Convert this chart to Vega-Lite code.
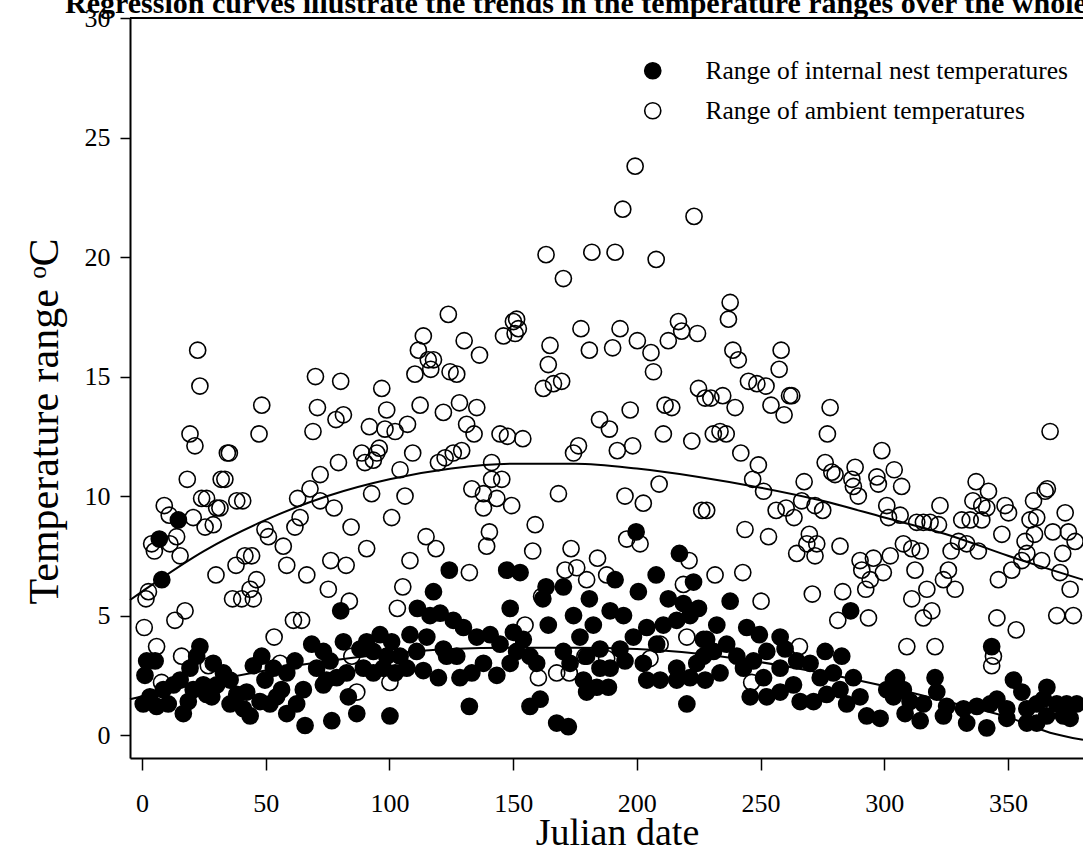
{
"$schema": "https://vega.github.io/schema/vega-lite/v6.json",
"width": 953,
"height": 740,
"autosize": {"type": "none"},
"padding": {"left": 130, "top": 18, "right": 0, "bottom": 94},
"background": "white",
"config": {"view": {"stroke": null}, "font": "Liberation Serif"},
"title": {"text": "Regression curves illustrate the trends in the temperature ranges over the whole year", "anchor": "start", "frame": "group", "fontSize": 30, "fontWeight": "bold", "font": "Liberation Serif", "baseline": "alphabetic", "offset": 10, "dx": -65, "dy": 48, "color": "black"},
"datasets": {
"pts": [
{"series":"Range of ambient temperatures","day":22.5,"value":16.1},{"series":"Range of ambient temperatures","day":23.4,"value":14.6},{"series":"Range of ambient temperatures","day":70.1,"value":15.0},{"series":"Range of ambient temperatures","day":70.9,"value":13.7},{"series":"Range of ambient temperatures","day":48.4,"value":13.8},{"series":"Range of ambient temperatures","day":47.3,"value":12.6},{"series":"Range of ambient temperatures","day":69.1,"value":12.7},{"series":"Range of ambient temperatures","day":19.4,"value":12.6},{"series":"Range of ambient temperatures","day":21.4,"value":12.1},{"series":"Range of ambient temperatures","day":35.3,"value":11.8},{"series":"Range of ambient temperatures","day":34.5,"value":11.8},{"series":"Range of ambient temperatures","day":18.3,"value":10.7},{"series":"Range of ambient temperatures","day":32.0,"value":10.7},{"series":"Range of ambient temperatures","day":33.5,"value":10.7},{"series":"Range of ambient temperatures","day":72.0,"value":10.9},{"series":"Range of ambient temperatures","day":67.9,"value":10.3},{"series":"Range of ambient temperatures","day":62.9,"value":9.9},{"series":"Range of ambient temperatures","day":72.0,"value":9.8},{"series":"Range of ambient temperatures","day":9.0,"value":9.6},{"series":"Range of ambient temperatures","day":11.0,"value":9.2},{"series":"Range of ambient temperatures","day":20.7,"value":9.1},{"series":"Range of ambient temperatures","day":24.1,"value":9.9},{"series":"Range of ambient temperatures","day":26.1,"value":9.9},{"series":"Range of ambient temperatures","day":31.5,"value":9.5},{"series":"Range of ambient temperatures","day":30.2,"value":9.5},{"series":"Range of ambient temperatures","day":38.3,"value":9.8},{"series":"Range of ambient temperatures","day":40.7,"value":9.8},{"series":"Range of ambient temperatures","day":25.5,"value":8.7},{"series":"Range of ambient temperatures","day":28.8,"value":8.8},{"series":"Range of ambient temperatures","day":14.0,"value":8.3},{"series":"Range of ambient temperatures","day":3.9,"value":8.0},{"series":"Range of ambient temperatures","day":11.3,"value":8.0},{"series":"Range of ambient temperatures","day":15.4,"value":7.5},{"series":"Range of ambient temperatures","day":5.0,"value":7.7},{"series":"Range of ambient temperatures","day":49.7,"value":8.6},{"series":"Range of ambient temperatures","day":51.1,"value":8.3},{"series":"Range of ambient temperatures","day":63.9,"value":9.1},{"series":"Range of ambient temperatures","day":61.8,"value":8.7},{"series":"Range of ambient temperatures","day":57.1,"value":7.9},{"series":"Range of ambient temperatures","day":58.5,"value":7.1},{"series":"Range of ambient temperatures","day":66.6,"value":6.7},{"series":"Range of ambient temperatures","day":41.6,"value":7.5},{"series":"Range of ambient temperatures","day":44.3,"value":7.5},{"series":"Range of ambient temperatures","day":38.0,"value":7.1},{"series":"Range of ambient temperatures","day":29.9,"value":6.7},{"series":"Range of ambient temperatures","day":46.3,"value":6.5},{"series":"Range of ambient temperatures","day":43.7,"value":6.1},{"series":"Range of ambient temperatures","day":40.3,"value":5.7},{"series":"Range of ambient temperatures","day":36.6,"value":5.7},{"series":"Range of ambient temperatures","day":45.0,"value":5.7},{"series":"Range of ambient temperatures","day":2.6,"value":6.0},{"series":"Range of ambient temperatures","day":1.6,"value":5.7},{"series":"Range of ambient temperatures","day":0.9,"value":4.5},{"series":"Range of ambient temperatures","day":13.3,"value":4.8},{"series":"Range of ambient temperatures","day":17.4,"value":5.2},{"series":"Range of ambient temperatures","day":61.2,"value":4.8},{"series":"Range of ambient temperatures","day":64.5,"value":4.8},{"series":"Range of ambient temperatures","day":53.4,"value":4.1},{"series":"Range of ambient temperatures","day":5.9,"value":3.7},{"series":"Range of ambient temperatures","day":16.0,"value":3.3},{"series":"Range of ambient temperatures","day":55.8,"value":3.0},{"series":"Range of ambient temperatures","day":7.9,"value":2.2},{"series":"Range of ambient temperatures","day":26.8,"value":2.9},
{"series":"Range of ambient temperatures","day":123.8,"value":17.6},{"series":"Range of ambient temperatures","day":113.7,"value":16.7},{"series":"Range of ambient temperatures","day":111.7,"value":16.1},{"series":"Range of ambient temperatures","day":115.7,"value":15.7},{"series":"Range of ambient temperatures","day":117.8,"value":15.7},{"series":"Range of ambient temperatures","day":116.7,"value":15.3},{"series":"Range of ambient temperatures","day":130.2,"value":16.5},{"series":"Range of ambient temperatures","day":136.4,"value":15.9},{"series":"Range of ambient temperatures","day":110.3,"value":15.1},{"series":"Range of ambient temperatures","day":124.5,"value":15.2},{"series":"Range of ambient temperatures","day":127.2,"value":15.1},{"series":"Range of ambient temperatures","day":146.1,"value":16.7},{"series":"Range of ambient temperatures","day":150.1,"value":17.3},{"series":"Range of ambient temperatures","day":150.8,"value":16.8},{"series":"Range of ambient temperatures","day":80.3,"value":14.8},{"series":"Range of ambient temperatures","day":96.9,"value":14.5},{"series":"Range of ambient temperatures","day":112.4,"value":13.8},{"series":"Range of ambient temperatures","day":121.8,"value":13.5},{"series":"Range of ambient temperatures","day":128.3,"value":13.9},{"series":"Range of ambient temperatures","day":135.3,"value":13.7},{"series":"Range of ambient temperatures","day":98.9,"value":13.6},{"series":"Range of ambient temperatures","day":78.4,"value":13.2},{"series":"Range of ambient temperatures","day":81.4,"value":13.4},{"series":"Range of ambient temperatures","day":91.9,"value":12.9},{"series":"Range of ambient temperatures","day":98.2,"value":12.8},{"series":"Range of ambient temperatures","day":102.3,"value":12.7},{"series":"Range of ambient temperatures","day":107.3,"value":13.0},{"series":"Range of ambient temperatures","day":131.2,"value":13.0},{"series":"Range of ambient temperatures","day":134.2,"value":12.6},{"series":"Range of ambient temperatures","day":144.7,"value":12.6},{"series":"Range of ambient temperatures","day":147.7,"value":12.5},{"series":"Range of ambient temperatures","day":95.9,"value":12.0},{"series":"Range of ambient temperatures","day":94.9,"value":11.8},{"series":"Range of ambient temperatures","day":88.8,"value":11.8},{"series":"Range of ambient temperatures","day":90.1,"value":11.4},{"series":"Range of ambient temperatures","day":93.5,"value":11.5},{"series":"Range of ambient temperatures","day":79.4,"value":11.4},{"series":"Range of ambient temperatures","day":109.4,"value":11.8},{"series":"Range of ambient temperatures","day":119.8,"value":11.4},{"series":"Range of ambient temperatures","day":122.5,"value":11.6},{"series":"Range of ambient temperatures","day":125.8,"value":11.8},{"series":"Range of ambient temperatures","day":129.2,"value":11.9},{"series":"Range of ambient temperatures","day":104.3,"value":11.1},{"series":"Range of ambient temperatures","day":141.3,"value":11.4},{"series":"Range of ambient temperatures","day":141.3,"value":10.7},{"series":"Range of ambient temperatures","day":145.4,"value":10.7},{"series":"Range of ambient temperatures","day":133.3,"value":10.3},{"series":"Range of ambient temperatures","day":138.0,"value":10.1},{"series":"Range of ambient temperatures","day":143.4,"value":9.9},{"series":"Range of ambient temperatures","day":138.0,"value":9.5},{"series":"Range of ambient temperatures","day":149.4,"value":9.6},{"series":"Range of ambient temperatures","day":92.8,"value":10.1},{"series":"Range of ambient temperatures","day":106.3,"value":10.0},{"series":"Range of ambient temperatures","day":77.6,"value":9.5},{"series":"Range of ambient temperatures","day":100.9,"value":9.1},{"series":"Range of ambient temperatures","day":84.5,"value":8.7},{"series":"Range of ambient temperatures","day":90.8,"value":7.8},{"series":"Range of ambient temperatures","day":114.8,"value":8.3},{"series":"Range of ambient temperatures","day":118.8,"value":7.8},{"series":"Range of ambient temperatures","day":140.4,"value":8.5},{"series":"Range of ambient temperatures","day":139.3,"value":7.9},{"series":"Range of ambient temperatures","day":108.3,"value":7.3},{"series":"Range of ambient temperatures","day":76.3,"value":7.3},{"series":"Range of ambient temperatures","day":82.5,"value":7.1},{"series":"Range of ambient temperatures","day":132.3,"value":6.8},{"series":"Range of ambient temperatures","day":75.3,"value":6.1},{"series":"Range of ambient temperatures","day":105.4,"value":6.2},{"series":"Range of ambient temperatures","day":83.8,"value":5.6},{"series":"Range of ambient temperatures","day":103.2,"value":5.3},{"series":"Range of ambient temperatures","day":100.2,"value":2.2},{"series":"Range of ambient temperatures","day":86.8,"value":1.8},{"series":"Range of ambient temperatures","day":84.8,"value":3.3},
{"series":"Range of ambient temperatures","day":199.3,"value":23.8},{"series":"Range of ambient temperatures","day":194.3,"value":22.0},{"series":"Range of ambient temperatures","day":223.1,"value":21.7},{"series":"Range of ambient temperatures","day":163.3,"value":20.1},{"series":"Range of ambient temperatures","day":170.3,"value":19.1},{"series":"Range of ambient temperatures","day":181.8,"value":20.2},{"series":"Range of ambient temperatures","day":191.2,"value":20.2},{"series":"Range of ambient temperatures","day":207.8,"value":19.9},{"series":"Range of ambient temperatures","day":151.4,"value":17.4},{"series":"Range of ambient temperatures","day":152.1,"value":17.0},{"series":"Range of ambient temperatures","day":177.4,"value":17.0},{"series":"Range of ambient temperatures","day":193.2,"value":17.0},{"series":"Range of ambient temperatures","day":216.8,"value":17.3},{"series":"Range of ambient temperatures","day":218.1,"value":16.9},{"series":"Range of ambient temperatures","day":224.5,"value":16.8},{"series":"Range of ambient temperatures","day":164.9,"value":16.3},{"series":"Range of ambient temperatures","day":180.8,"value":16.1},{"series":"Range of ambient temperatures","day":190.2,"value":16.2},{"series":"Range of ambient temperatures","day":200.2,"value":16.5},{"series":"Range of ambient temperatures","day":205.7,"value":16.0},{"series":"Range of ambient temperatures","day":212.7,"value":16.5},{"series":"Range of ambient temperatures","day":164.2,"value":15.5},{"series":"Range of ambient temperatures","day":206.7,"value":15.2},{"series":"Range of ambient temperatures","day":162.2,"value":14.5},{"series":"Range of ambient temperatures","day":166.3,"value":14.7},{"series":"Range of ambient temperatures","day":169.6,"value":14.8},{"series":"Range of ambient temperatures","day":224.9,"value":14.5},{"series":"Range of ambient temperatures","day":227.6,"value":14.1},{"series":"Range of ambient temperatures","day":184.9,"value":13.2},{"series":"Range of ambient temperatures","day":188.9,"value":12.8},{"series":"Range of ambient temperatures","day":197.3,"value":13.6},{"series":"Range of ambient temperatures","day":211.4,"value":13.8},{"series":"Range of ambient temperatures","day":214.1,"value":13.7},{"series":"Range of ambient temperatures","day":210.7,"value":12.6},{"series":"Range of ambient temperatures","day":222.2,"value":12.3},{"series":"Range of ambient temperatures","day":176.4,"value":12.1},{"series":"Range of ambient temperatures","day":174.4,"value":11.8},{"series":"Range of ambient temperatures","day":192.1,"value":11.9},{"series":"Range of ambient temperatures","day":198.3,"value":12.1},{"series":"Range of ambient temperatures","day":153.9,"value":12.4},{"series":"Range of ambient temperatures","day":168.3,"value":10.1},{"series":"Range of ambient temperatures","day":195.2,"value":10.0},{"series":"Range of ambient temperatures","day":202.6,"value":9.7},{"series":"Range of ambient temperatures","day":209.0,"value":10.5},{"series":"Range of ambient temperatures","day":226.2,"value":9.4},{"series":"Range of ambient temperatures","day":158.9,"value":8.8},{"series":"Range of ambient temperatures","day":195.9,"value":8.2},{"series":"Range of ambient temperatures","day":201.3,"value":8.0},{"series":"Range of ambient temperatures","day":157.9,"value":7.7},{"series":"Range of ambient temperatures","day":173.4,"value":7.8},{"series":"Range of ambient temperatures","day":184.1,"value":7.4},{"series":"Range of ambient temperatures","day":171.0,"value":6.9},{"series":"Range of ambient temperatures","day":175.7,"value":7.0},{"series":"Range of ambient temperatures","day":179.7,"value":6.5},{"series":"Range of ambient temperatures","day":187.8,"value":6.7},{"series":"Range of ambient temperatures","day":221.1,"value":7.3},{"series":"Range of ambient temperatures","day":218.8,"value":6.3},{"series":"Range of ambient temperatures","day":154.8,"value":4.6},{"series":"Range of ambient temperatures","day":161.5,"value":5.8},{"series":"Range of ambient temperatures","day":209.4,"value":3.8},{"series":"Range of ambient temperatures","day":220.2,"value":4.1},{"series":"Range of ambient temperatures","day":187.8,"value":3.2},{"series":"Range of ambient temperatures","day":160.2,"value":2.4},{"series":"Range of ambient temperatures","day":167.6,"value":2.6},{"series":"Range of ambient temperatures","day":172.7,"value":2.6},{"series":"Range of ambient temperatures","day":205.3,"value":3.2},{"series":"Range of ambient temperatures","day":179.0,"value":3.3},
{"series":"Range of ambient temperatures","day":237.7,"value":18.1},{"series":"Range of ambient temperatures","day":237.0,"value":17.4},{"series":"Range of ambient temperatures","day":238.8,"value":16.1},{"series":"Range of ambient temperatures","day":241.0,"value":15.7},{"series":"Range of ambient temperatures","day":258.3,"value":16.1},{"series":"Range of ambient temperatures","day":257.5,"value":15.3},{"series":"Range of ambient temperatures","day":245.1,"value":14.8},{"series":"Range of ambient temperatures","day":248.5,"value":14.7},{"series":"Range of ambient temperatures","day":252.2,"value":14.6},{"series":"Range of ambient temperatures","day":234.7,"value":14.2},{"series":"Range of ambient temperatures","day":229.9,"value":14.1},{"series":"Range of ambient temperatures","day":239.7,"value":13.7},{"series":"Range of ambient temperatures","day":254.2,"value":13.8},{"series":"Range of ambient temperatures","day":261.7,"value":14.2},{"series":"Range of ambient temperatures","day":262.6,"value":14.2},{"series":"Range of ambient temperatures","day":259.5,"value":13.4},{"series":"Range of ambient temperatures","day":278.1,"value":13.7},{"series":"Range of ambient temperatures","day":277.0,"value":12.6},{"series":"Range of ambient temperatures","day":299.0,"value":11.9},{"series":"Range of ambient temperatures","day":230.9,"value":12.6},{"series":"Range of ambient temperatures","day":233.6,"value":12.7},{"series":"Range of ambient temperatures","day":236.1,"value":12.6},{"series":"Range of ambient temperatures","day":242.0,"value":11.8},{"series":"Range of ambient temperatures","day":249.1,"value":11.3},{"series":"Range of ambient temperatures","day":276.1,"value":11.4},{"series":"Range of ambient temperatures","day":278.8,"value":11.0},{"series":"Range of ambient temperatures","day":280.1,"value":10.9},{"series":"Range of ambient temperatures","day":288.2,"value":11.2},{"series":"Range of ambient temperatures","day":297.0,"value":10.8},{"series":"Range of ambient temperatures","day":304.0,"value":11.1},{"series":"Range of ambient temperatures","day":246.8,"value":10.7},{"series":"Range of ambient temperatures","day":251.2,"value":10.2},{"series":"Range of ambient temperatures","day":267.6,"value":10.6},{"series":"Range of ambient temperatures","day":286.9,"value":10.7},{"series":"Range of ambient temperatures","day":287.5,"value":10.4},{"series":"Range of ambient temperatures","day":289.5,"value":10.0},{"series":"Range of ambient temperatures","day":297.6,"value":10.5},{"series":"Range of ambient temperatures","day":266.6,"value":9.8},{"series":"Range of ambient temperatures","day":228.2,"value":9.4},{"series":"Range of ambient temperatures","day":256.3,"value":9.4},{"series":"Range of ambient temperatures","day":260.3,"value":9.5},{"series":"Range of ambient temperatures","day":263.5,"value":9.1},{"series":"Range of ambient temperatures","day":272.0,"value":9.6},{"series":"Range of ambient temperatures","day":275.1,"value":9.4},{"series":"Range of ambient temperatures","day":301.0,"value":9.6},{"series":"Range of ambient temperatures","day":301.7,"value":9.1},{"series":"Range of ambient temperatures","day":243.7,"value":8.6},{"series":"Range of ambient temperatures","day":253.2,"value":8.3},{"series":"Range of ambient temperatures","day":269.7,"value":8.4},{"series":"Range of ambient temperatures","day":268.7,"value":8.0},{"series":"Range of ambient temperatures","day":272.7,"value":8.0},{"series":"Range of ambient temperatures","day":264.6,"value":7.6},{"series":"Range of ambient temperatures","day":272.0,"value":7.5},{"series":"Range of ambient temperatures","day":282.1,"value":7.9},{"series":"Range of ambient temperatures","day":290.2,"value":7.3},{"series":"Range of ambient temperatures","day":295.6,"value":7.4},{"series":"Range of ambient temperatures","day":290.9,"value":6.9},{"series":"Range of ambient temperatures","day":299.6,"value":6.8},{"series":"Range of ambient temperatures","day":294.3,"value":6.5},{"series":"Range of ambient temperatures","day":292.5,"value":6.1},{"series":"Range of ambient temperatures","day":302.4,"value":7.5},{"series":"Range of ambient temperatures","day":231.6,"value":6.7},{"series":"Range of ambient temperatures","day":242.8,"value":6.8},{"series":"Range of ambient temperatures","day":250.2,"value":5.6},{"series":"Range of ambient temperatures","day":270.9,"value":5.9},{"series":"Range of ambient temperatures","day":283.2,"value":6.0},{"series":"Range of ambient temperatures","day":281.2,"value":4.8},{"series":"Range of ambient temperatures","day":293.6,"value":4.9},{"series":"Range of ambient temperatures","day":265.7,"value":3.7},{"series":"Range of ambient temperatures","day":246.4,"value":2.2},
{"series":"Range of ambient temperatures","day":367.0,"value":12.7},{"series":"Range of ambient temperatures","day":307.0,"value":10.4},{"series":"Range of ambient temperatures","day":337.1,"value":10.6},{"series":"Range of ambient temperatures","day":342.1,"value":10.2},{"series":"Range of ambient temperatures","day":322.5,"value":9.6},{"series":"Range of ambient temperatures","day":335.8,"value":9.8},{"series":"Range of ambient temperatures","day":339.4,"value":9.6},{"series":"Range of ambient temperatures","day":341.4,"value":9.5},{"series":"Range of ambient temperatures","day":348.8,"value":9.6},{"series":"Range of ambient temperatures","day":350.2,"value":9.3},{"series":"Range of ambient temperatures","day":360.3,"value":9.8},{"series":"Range of ambient temperatures","day":365.0,"value":10.2},{"series":"Range of ambient temperatures","day":365.9,"value":10.3},{"series":"Range of ambient temperatures","day":373.1,"value":9.3},{"series":"Range of ambient temperatures","day":306.4,"value":9.2},{"series":"Range of ambient temperatures","day":313.1,"value":8.9},{"series":"Range of ambient temperatures","day":315.8,"value":8.9},{"series":"Range of ambient temperatures","day":318.5,"value":8.9},{"series":"Range of ambient temperatures","day":321.9,"value":8.8},{"series":"Range of ambient temperatures","day":331.3,"value":9.0},{"series":"Range of ambient temperatures","day":334.7,"value":9.0},{"series":"Range of ambient temperatures","day":339.4,"value":9.0},{"series":"Range of ambient temperatures","day":358.9,"value":9.0},{"series":"Range of ambient temperatures","day":361.6,"value":9.1},{"series":"Range of ambient temperatures","day":368.1,"value":8.5},{"series":"Range of ambient temperatures","day":374.4,"value":8.5},{"series":"Range of ambient temperatures","day":377.1,"value":8.1},{"series":"Range of ambient temperatures","day":347.5,"value":8.4},{"series":"Range of ambient temperatures","day":360.7,"value":8.4},{"series":"Range of ambient temperatures","day":356.9,"value":8.1},{"series":"Range of ambient temperatures","day":307.7,"value":8.0},{"series":"Range of ambient temperatures","day":311.1,"value":7.8},{"series":"Range of ambient temperatures","day":314.5,"value":7.7},{"series":"Range of ambient temperatures","day":327.0,"value":7.7},{"series":"Range of ambient temperatures","day":330.0,"value":8.1},{"series":"Range of ambient temperatures","day":333.3,"value":8.0},{"series":"Range of ambient temperatures","day":338.0,"value":7.7},{"series":"Range of ambient temperatures","day":372.1,"value":7.6},{"series":"Range of ambient temperatures","day":357.6,"value":7.6},{"series":"Range of ambient temperatures","day":363.6,"value":7.3},{"series":"Range of ambient temperatures","day":355.6,"value":7.3},{"series":"Range of ambient temperatures","day":371.0,"value":6.8},{"series":"Range of ambient temperatures","day":312.4,"value":6.9},{"series":"Range of ambient temperatures","day":351.5,"value":6.9},{"series":"Range of ambient temperatures","day":325.9,"value":6.9},{"series":"Range of ambient temperatures","day":323.9,"value":6.5},{"series":"Range of ambient temperatures","day":328.6,"value":6.1},{"series":"Range of ambient temperatures","day":317.2,"value":6.1},{"series":"Range of ambient temperatures","day":346.1,"value":6.5},{"series":"Range of ambient temperatures","day":375.1,"value":6.1},{"series":"Range of ambient temperatures","day":311.1,"value":5.7},{"series":"Range of ambient temperatures","day":319.2,"value":5.2},{"series":"Range of ambient temperatures","day":315.8,"value":4.9},{"series":"Range of ambient temperatures","day":345.5,"value":4.9},{"series":"Range of ambient temperatures","day":353.3,"value":4.4},{"series":"Range of ambient temperatures","day":369.7,"value":5.0},{"series":"Range of ambient temperatures","day":376.4,"value":5.0},{"series":"Range of ambient temperatures","day":309.1,"value":3.7},{"series":"Range of ambient temperatures","day":320.5,"value":3.7},{"series":"Range of ambient temperatures","day":344.1,"value":3.3},{"series":"Range of ambient temperatures","day":343.4,"value":2.9},
{"series":"Range of internal nest temperatures","day":14.7,"value":9.0},{"series":"Range of internal nest temperatures","day":7.0,"value":8.2},{"series":"Range of internal nest temperatures","day":8.0,"value":6.5},{"series":"Range of internal nest temperatures","day":23.4,"value":3.7},{"series":"Range of internal nest temperatures","day":1.9,"value":3.1},{"series":"Range of internal nest temperatures","day":5.3,"value":3.1},{"series":"Range of internal nest temperatures","day":1.2,"value":2.5},{"series":"Range of internal nest temperatures","day":0.5,"value":1.3},{"series":"Range of internal nest temperatures","day":3.2,"value":1.6},{"series":"Range of internal nest temperatures","day":8.6,"value":1.9},{"series":"Range of internal nest temperatures","day":12.7,"value":2.1},{"series":"Range of internal nest temperatures","day":15.4,"value":2.3},{"series":"Range of internal nest temperatures","day":19.4,"value":2.8},{"series":"Range of internal nest temperatures","day":22.1,"value":3.3},{"series":"Range of internal nest temperatures","day":16.7,"value":0.9},{"series":"Range of internal nest temperatures","day":18.7,"value":1.4},{"series":"Range of internal nest temperatures","day":24.8,"value":2.1},{"series":"Range of internal nest temperatures","day":28.8,"value":3.0},{"series":"Range of internal nest temperatures","day":28.2,"value":1.6},{"series":"Range of internal nest temperatures","day":32.9,"value":2.6},{"series":"Range of internal nest temperatures","day":35.6,"value":2.3},{"series":"Range of internal nest temperatures","day":38.3,"value":1.7},{"series":"Range of internal nest temperatures","day":41.0,"value":1.1},{"series":"Range of internal nest temperatures","day":43.7,"value":0.8},{"series":"Range of internal nest temperatures","day":45.0,"value":2.9},{"series":"Range of internal nest temperatures","day":48.4,"value":3.3},{"series":"Range of internal nest temperatures","day":49.7,"value":2.3},{"series":"Range of internal nest temperatures","day":51.7,"value":1.3},{"series":"Range of internal nest temperatures","day":54.4,"value":1.6},{"series":"Range of internal nest temperatures","day":56.4,"value":1.9},{"series":"Range of internal nest temperatures","day":58.5,"value":0.9},{"series":"Range of internal nest temperatures","day":61.8,"value":3.1},{"series":"Range of internal nest temperatures","day":65.2,"value":1.9},{"series":"Range of internal nest temperatures","day":65.9,"value":0.4},{"series":"Range of internal nest temperatures","day":68.6,"value":3.8},{"series":"Range of internal nest temperatures","day":70.6,"value":2.8},{"series":"Range of internal nest temperatures","day":73.3,"value":2.1},{"series":"Range of internal nest temperatures","day":10.6,"value":1.3},{"series":"Range of internal nest temperatures","day":5.9,"value":1.2},{"series":"Range of internal nest temperatures","day":30.2,"value":2.1},{"series":"Range of internal nest temperatures","day":26.1,"value":1.7},{"series":"Range of internal nest temperatures","day":20.7,"value":1.9},{"series":"Range of internal nest temperatures","day":35.6,"value":1.3},{"series":"Range of internal nest temperatures","day":53.1,"value":2.8},{"series":"Range of internal nest temperatures","day":58.5,"value":2.6},{"series":"Range of internal nest temperatures","day":62.5,"value":1.3},{"series":"Range of internal nest temperatures","day":42.3,"value":1.8},{"series":"Range of internal nest temperatures","day":47.7,"value":1.4},
{"series":"Range of internal nest temperatures","day":124.2,"value":6.9},{"series":"Range of internal nest temperatures","day":117.8,"value":6.0},{"series":"Range of internal nest temperatures","day":80.3,"value":5.2},{"series":"Range of internal nest temperatures","day":111.3,"value":5.3},{"series":"Range of internal nest temperatures","day":116.4,"value":5.0},{"series":"Range of internal nest temperatures","day":120.5,"value":5.1},{"series":"Range of internal nest temperatures","day":125.8,"value":4.8},{"series":"Range of internal nest temperatures","day":129.9,"value":4.5},{"series":"Range of internal nest temperatures","day":81.4,"value":3.9},{"series":"Range of internal nest temperatures","day":108.3,"value":4.2},{"series":"Range of internal nest temperatures","day":115.1,"value":4.1},{"series":"Range of internal nest temperatures","day":96.2,"value":4.2},{"series":"Range of internal nest temperatures","day":90.8,"value":3.9},{"series":"Range of internal nest temperatures","day":100.9,"value":3.9},{"series":"Range of internal nest temperatures","day":88.1,"value":3.6},{"series":"Range of internal nest temperatures","day":93.5,"value":3.5},{"series":"Range of internal nest temperatures","day":98.9,"value":3.3},{"series":"Range of internal nest temperatures","day":104.3,"value":3.3},{"series":"Range of internal nest temperatures","day":111.0,"value":3.5},{"series":"Range of internal nest temperatures","day":121.8,"value":3.6},{"series":"Range of internal nest temperatures","day":127.2,"value":3.3},{"series":"Range of internal nest temperatures","day":135.3,"value":4.1},{"series":"Range of internal nest temperatures","day":140.7,"value":4.2},{"series":"Range of internal nest temperatures","day":144.7,"value":3.8},{"series":"Range of internal nest temperatures","day":147.4,"value":6.9},{"series":"Range of internal nest temperatures","day":148.8,"value":5.3},{"series":"Range of internal nest temperatures","day":73.3,"value":3.5},{"series":"Range of internal nest temperatures","day":76.0,"value":3.1},{"series":"Range of internal nest temperatures","day":74.6,"value":2.3},{"series":"Range of internal nest temperatures","day":78.7,"value":2.4},{"series":"Range of internal nest temperatures","day":82.7,"value":2.6},{"series":"Range of internal nest temperatures","day":89.5,"value":2.8},{"series":"Range of internal nest temperatures","day":93.5,"value":2.6},{"series":"Range of internal nest temperatures","day":97.5,"value":2.8},{"series":"Range of internal nest temperatures","day":102.3,"value":2.6},{"series":"Range of internal nest temperatures","day":107.0,"value":2.8},{"series":"Range of internal nest temperatures","day":113.7,"value":2.7},{"series":"Range of internal nest temperatures","day":119.8,"value":2.4},{"series":"Range of internal nest temperatures","day":123.1,"value":3.3},{"series":"Range of internal nest temperatures","day":128.5,"value":2.4},{"series":"Range of internal nest temperatures","day":133.3,"value":2.6},{"series":"Range of internal nest temperatures","day":138.0,"value":3.0},{"series":"Range of internal nest temperatures","day":143.4,"value":2.5},{"series":"Range of internal nest temperatures","day":148.8,"value":3.0},{"series":"Range of internal nest temperatures","day":83.4,"value":1.6},{"series":"Range of internal nest temperatures","day":86.8,"value":0.9},{"series":"Range of internal nest temperatures","day":76.7,"value":0.6},{"series":"Range of internal nest temperatures","day":100.2,"value":0.8},{"series":"Range of internal nest temperatures","day":132.3,"value":1.2},
{"series":"Range of internal nest temperatures","day":199.7,"value":8.5},{"series":"Range of internal nest temperatures","day":217.2,"value":7.6},{"series":"Range of internal nest temperatures","day":152.8,"value":6.8},{"series":"Range of internal nest temperatures","day":222.9,"value":6.4},{"series":"Range of internal nest temperatures","day":191.2,"value":6.5},{"series":"Range of internal nest temperatures","day":207.8,"value":6.7},{"series":"Range of internal nest temperatures","day":163.3,"value":6.2},{"series":"Range of internal nest temperatures","day":170.3,"value":6.2},{"series":"Range of internal nest temperatures","day":180.8,"value":5.7},{"series":"Range of internal nest temperatures","day":200.6,"value":6.0},{"series":"Range of internal nest temperatures","day":162.0,"value":5.7},{"series":"Range of internal nest temperatures","day":212.7,"value":5.7},{"series":"Range of internal nest temperatures","day":218.8,"value":5.5},{"series":"Range of internal nest temperatures","day":224.9,"value":5.3},{"series":"Range of internal nest temperatures","day":174.4,"value":5.0},{"series":"Range of internal nest temperatures","day":189.2,"value":5.2},{"series":"Range of internal nest temperatures","day":194.6,"value":5.0},{"series":"Range of internal nest temperatures","day":182.4,"value":4.6},{"series":"Range of internal nest temperatures","day":164.2,"value":4.6},{"series":"Range of internal nest temperatures","day":150.1,"value":4.3},{"series":"Range of internal nest temperatures","day":154.1,"value":4.0},{"series":"Range of internal nest temperatures","day":177.0,"value":4.1},{"series":"Range of internal nest temperatures","day":198.6,"value":4.1},{"series":"Range of internal nest temperatures","day":204.0,"value":4.5},{"series":"Range of internal nest temperatures","day":210.7,"value":4.6},{"series":"Range of internal nest temperatures","day":216.1,"value":4.8},{"series":"Range of internal nest temperatures","day":221.5,"value":5.0},{"series":"Range of internal nest temperatures","day":185.1,"value":3.6},{"series":"Range of internal nest temperatures","day":193.2,"value":3.6},{"series":"Range of internal nest temperatures","day":208.0,"value":3.8},{"series":"Range of internal nest temperatures","day":226.9,"value":4.0},{"series":"Range of internal nest temperatures","day":151.4,"value":3.5},{"series":"Range of internal nest temperatures","day":156.8,"value":3.3},{"series":"Range of internal nest temperatures","day":170.3,"value":3.5},{"series":"Range of internal nest temperatures","day":179.7,"value":3.3},{"series":"Range of internal nest temperatures","day":159.5,"value":3.0},{"series":"Range of internal nest temperatures","day":173.0,"value":3.0},{"series":"Range of internal nest temperatures","day":189.2,"value":2.8},{"series":"Range of internal nest temperatures","day":202.6,"value":3.0},{"series":"Range of internal nest temperatures","day":195.2,"value":3.1},{"series":"Range of internal nest temperatures","day":216.1,"value":2.8},{"series":"Range of internal nest temperatures","day":224.2,"value":3.0},{"series":"Range of internal nest temperatures","day":185.1,"value":2.8},{"series":"Range of internal nest temperatures","day":178.4,"value":2.3},{"series":"Range of internal nest temperatures","day":183.8,"value":2.0},{"series":"Range of internal nest temperatures","day":188.5,"value":2.0},{"series":"Range of internal nest temperatures","day":204.0,"value":2.3},{"series":"Range of internal nest temperatures","day":209.4,"value":2.3},{"series":"Range of internal nest temperatures","day":216.1,"value":2.3},{"series":"Range of internal nest temperatures","day":221.5,"value":2.4},{"series":"Range of internal nest temperatures","day":179.7,"value":1.8},{"series":"Range of internal nest temperatures","day":156.8,"value":1.2},{"series":"Range of internal nest temperatures","day":160.9,"value":1.5},{"series":"Range of internal nest temperatures","day":167.6,"value":0.5},{"series":"Range of internal nest temperatures","day":172.3,"value":0.35},{"series":"Range of internal nest temperatures","day":220.2,"value":1.3},
{"series":"Range of internal nest temperatures","day":237.7,"value":5.6},{"series":"Range of internal nest temperatures","day":286.4,"value":5.2},{"series":"Range of internal nest temperatures","day":232.3,"value":4.6},{"series":"Range of internal nest temperatures","day":244.4,"value":4.5},{"series":"Range of internal nest temperatures","day":249.5,"value":4.2},{"series":"Range of internal nest temperatures","day":257.9,"value":4.1},{"series":"Range of internal nest temperatures","day":228.2,"value":4.0},{"series":"Range of internal nest temperatures","day":236.3,"value":3.8},{"series":"Range of internal nest temperatures","day":259.9,"value":3.6},{"series":"Range of internal nest temperatures","day":276.1,"value":3.5},{"series":"Range of internal nest temperatures","day":282.8,"value":3.3},{"series":"Range of internal nest temperatures","day":240.4,"value":3.3},{"series":"Range of internal nest temperatures","day":247.1,"value":3.1},{"series":"Range of internal nest temperatures","day":252.5,"value":3.5},{"series":"Range of internal nest temperatures","day":264.6,"value":3.1},{"series":"Range of internal nest temperatures","day":270.0,"value":3.0},{"series":"Range of internal nest temperatures","day":227.6,"value":2.3},{"series":"Range of internal nest temperatures","day":233.6,"value":2.6},{"series":"Range of internal nest temperatures","day":243.1,"value":2.8},{"series":"Range of internal nest temperatures","day":251.2,"value":2.4},{"series":"Range of internal nest temperatures","day":257.9,"value":2.8},{"series":"Range of internal nest temperatures","day":263.3,"value":2.1},{"series":"Range of internal nest temperatures","day":274.1,"value":2.4},{"series":"Range of internal nest temperatures","day":279.4,"value":2.6},{"series":"Range of internal nest temperatures","day":287.5,"value":2.4},{"series":"Range of internal nest temperatures","day":245.8,"value":1.6},{"series":"Range of internal nest temperatures","day":252.5,"value":1.6},{"series":"Range of internal nest temperatures","day":257.9,"value":1.8},{"series":"Range of internal nest temperatures","day":266.0,"value":1.4},{"series":"Range of internal nest temperatures","day":271.4,"value":1.4},{"series":"Range of internal nest temperatures","day":276.7,"value":1.7},{"series":"Range of internal nest temperatures","day":282.1,"value":1.9},{"series":"Range of internal nest temperatures","day":284.8,"value":1.3},{"series":"Range of internal nest temperatures","day":290.2,"value":1.6},{"series":"Range of internal nest temperatures","day":292.9,"value":0.8},{"series":"Range of internal nest temperatures","day":298.3,"value":0.7},{"series":"Range of internal nest temperatures","day":301.0,"value":1.9},{"series":"Range of internal nest temperatures","day":303.7,"value":2.3},{"series":"Range of internal nest temperatures","day":226.9,"value":3.3},{"series":"Range of internal nest temperatures","day":231.0,"value":3.5},
{"series":"Range of internal nest temperatures","day":343.4,"value":3.7},{"series":"Range of internal nest temperatures","day":305.0,"value":2.4},{"series":"Range of internal nest temperatures","day":320.5,"value":2.4},{"series":"Range of internal nest temperatures","day":352.2,"value":2.3},{"series":"Range of internal nest temperatures","day":365.7,"value":2.0},{"series":"Range of internal nest temperatures","day":355.6,"value":1.8},{"series":"Range of internal nest temperatures","day":307.7,"value":1.9},{"series":"Range of internal nest temperatures","day":321.2,"value":1.8},{"series":"Range of internal nest temperatures","day":345.5,"value":1.5},{"series":"Range of internal nest temperatures","day":364.3,"value":1.5},{"series":"Range of internal nest temperatures","day":310.4,"value":1.4},{"series":"Range of internal nest temperatures","day":303.7,"value":1.6},{"series":"Range of internal nest temperatures","day":315.8,"value":1.3},{"series":"Range of internal nest temperatures","day":325.2,"value":1.2},{"series":"Range of internal nest temperatures","day":332.0,"value":1.1},{"series":"Range of internal nest temperatures","day":337.4,"value":1.2},{"series":"Range of internal nest temperatures","day":342.8,"value":1.3},{"series":"Range of internal nest temperatures","day":349.5,"value":1.1},{"series":"Range of internal nest temperatures","day":357.6,"value":1.1},{"series":"Range of internal nest temperatures","day":361.6,"value":1.3},{"series":"Range of internal nest temperatures","day":369.7,"value":1.3},{"series":"Range of internal nest temperatures","day":373.7,"value":1.3},{"series":"Range of internal nest temperatures","day":377.8,"value":1.3},{"series":"Range of internal nest temperatures","day":308.4,"value":0.9},{"series":"Range of internal nest temperatures","day":314.5,"value":0.6},{"series":"Range of internal nest temperatures","day":323.9,"value":0.8},{"series":"Range of internal nest temperatures","day":333.3,"value":0.5},{"series":"Range of internal nest temperatures","day":341.4,"value":0.3},{"series":"Range of internal nest temperatures","day":349.5,"value":0.7},{"series":"Range of internal nest temperatures","day":357.6,"value":0.5},{"series":"Range of internal nest temperatures","day":365.6,"value":0.8},{"series":"Range of internal nest temperatures","day":375.1,"value":0.7},{"series":"Range of internal nest temperatures","day":361.6,"value":0.5},{"series":"Range of internal nest temperatures","day":372.4,"value":0.8}
],
"curves": [
{"curve":"ambient","day":-4.85,"value":5.65},{"curve":"ambient","day":0,"value":6.0},{"curve":"ambient","day":25,"value":7.7},{"curve":"ambient","day":50,"value":9.0},{"curve":"ambient","day":75,"value":10.0},{"curve":"ambient","day":100,"value":10.7},{"curve":"ambient","day":125,"value":11.15},{"curve":"ambient","day":150,"value":11.35},{"curve":"ambient","day":175,"value":11.35},{"curve":"ambient","day":200,"value":11.15},{"curve":"ambient","day":225,"value":10.8},{"curve":"ambient","day":250,"value":10.35},{"curve":"ambient","day":275,"value":9.8},{"curve":"ambient","day":300,"value":9.1},{"curve":"ambient","day":325,"value":8.4},{"curve":"ambient","day":350,"value":7.5},{"curve":"ambient","day":380.3,"value":6.5},
{"curve":"nest","day":-4.85,"value":1.5},{"curve":"nest","day":25,"value":2.2},{"curve":"nest","day":50,"value":2.7},{"curve":"nest","day":75,"value":3.1},{"curve":"nest","day":100,"value":3.4},{"curve":"nest","day":125,"value":3.6},{"curve":"nest","day":150,"value":3.65},{"curve":"nest","day":175,"value":3.65},{"curve":"nest","day":200,"value":3.6},{"curve":"nest","day":225,"value":3.4},{"curve":"nest","day":250,"value":3.05},{"curve":"nest","day":275,"value":2.6},{"curve":"nest","day":300,"value":2.05},{"curve":"nest","day":325,"value":1.4},{"curve":"nest","day":350,"value":0.75},{"curve":"nest","day":367,"value":0.1},{"curve":"nest","day":380.3,"value":-0.2}
]
},
"layer": [
{
"data": {"name": "pts"},
"mark": {"type": "point", "shape": "circle", "filled": true, "size": 260, "stroke": "black", "strokeWidth": 1.6, "opacity": 1, "fillOpacity": 1, "strokeOpacity": 1},
"encoding": {
"x": {"field": "day", "type": "quantitative", "scale": {"domain": [-4.85, 380.3], "nice": false, "zero": false},
"axis": {"values": [0,50,100,150,200,250,300,350], "grid": false, "domainColor": "black", "domainWidth": 2, "tickColor": "black", "tickWidth": 1.5, "tickSize": 12, "labelFont": "Liberation Serif", "labelFontSize": 26, "labelColor": "black", "labelPadding": 20, "labelFlush": false, "title": "Julian date", "titleFont": "Liberation Serif", "titleFontSize": 38, "titleFontWeight": "normal", "titleColor": "black", "titleBaseline": "alphabetic", "titleY": 86, "titleX": 487, "titleAlign": "center"}},
"y": {"field": "value", "type": "quantitative", "scale": {"domain": [-0.96, 30], "nice": false, "zero": false},
"axis": {"values": [0,5,10,15,20,25,30], "grid": false, "domainColor": "black", "domainWidth": 2, "tickColor": "black", "tickWidth": 1.5, "tickSize": 10, "labelFont": "Liberation Serif", "labelFontSize": 26, "labelColor": "black", "labelPadding": 10, "labelFlush": false, "title": "Temperature range ᵒC", "titleFont": "Liberation Serif", "titleFontSize": 42, "titleFontWeight": "normal", "titleColor": "black", "titleBaseline": "alphabetic", "titleAngle": -90, "titleX": -73, "titleY": 403, "titleAlign": "center"}},
"fill": {"field": "series", "type": "nominal", "scale": {"domain": ["Range of internal nest temperatures", "Range of ambient temperatures"], "range": ["black", "transparent"]},
"legend": {"orient": "none", "legendX": 510, "legendY": 40, "title": null, "labelFont": "Liberation Serif", "labelFontSize": 25.5, "labelColor": "black", "symbolType": "circle", "symbolSize": 260, "symbolStrokeColor": "black", "symbolStrokeWidth": 1.6, "symbolOpacity": 1, "labelOffset": 40, "rowPadding": 13, "padding": 0, "labelLimit": 0}}
}
},
{
"data": {"name": "curves"},
"mark": {"type": "line", "interpolate": "monotone", "stroke": "black", "strokeWidth": 2},
"encoding": {
"x": {"field": "day", "type": "quantitative"},
"y": {"field": "value", "type": "quantitative"},
"detail": {"field": "curve"}
}
},
{
"data": {"values": [{"top": 30}]},
"mark": {"type": "rule", "stroke": "black", "strokeWidth": 2},
"encoding": {"y": {"field": "top", "type": "quantitative"}}
}
]
}
